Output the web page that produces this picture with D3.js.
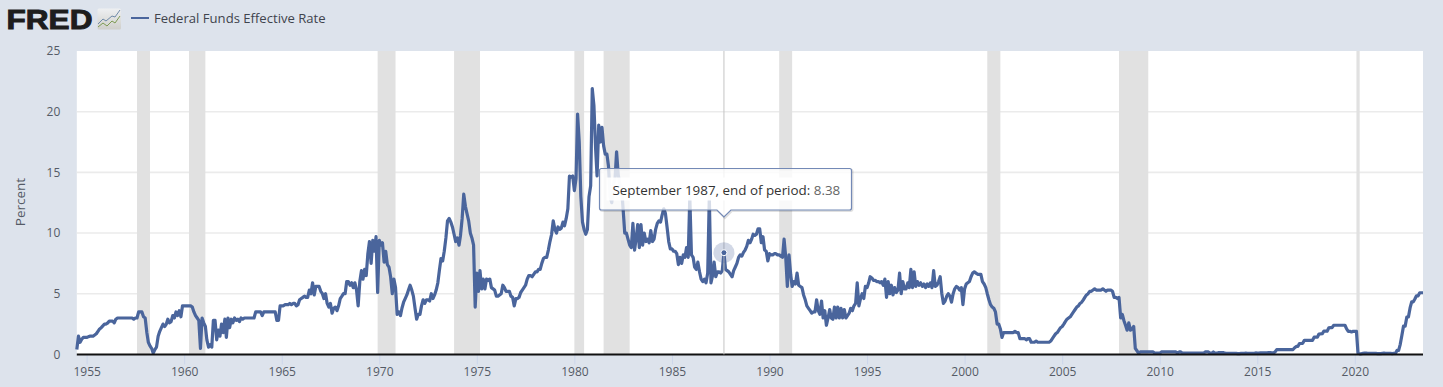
<!DOCTYPE html>
<html>
<head>
<meta charset="utf-8">
<script src="https://cdn.jsdelivr.net/npm/d3@7"></script>
<style>
  html, body { margin: 0; padding: 0; background: #dde3ec; }
  svg { display: block; font-family: "Open Sans", sans-serif; }
</style>
</head>
<body>
<svg id="chart"></svg>
<script>
// monthly end of period values, one row per year. first row starts in July 1954
var rates1950s = [
  [0.4, 1.5, 1.0, 1.25, 1.4, 1.4],
  [1.4, 1.45, 1.5, 1.5, 1.5, 1.6, 1.7, 1.9, 2.1, 2.2, 2.35, 2.5],
  [2.5, 2.6, 2.75, 2.75, 2.75, 2.6, 2.9, 3.0, 3.0, 3.0, 3.0, 3.0],
  [3.0, 3.0, 3.0, 3.0, 3.0, 2.9, 3.0, 3.0, 3.5, 3.5, 3.5, 3.1],
  [3.0, 1.8, 1.0, 0.7, 0.5, 0.1, 0.4, 0.6, 1.5, 1.9, 2.2, 2.5],
  [2.3, 2.5, 2.9, 2.6, 2.7, 3.2, 3.0, 3.5, 3.2, 3.6, 3.1, 4.0]
];
var rates1960s = [
  [4.0, 4.0, 4.0, 4.0, 4.0, 3.9, 3.5, 3.2, 3.0, 2.8, 0.5, 3.0],
  [2.6, 2.3, 1.2, 0.6, 0.8, 0.6, 2.8, 2.8, 1.2, 2.0, 1.5, 2.5],
  [1.8, 2.9, 1.4, 3.0, 2.2, 2.9, 2.6, 3.0, 2.8, 2.9, 2.7, 3.0],
  [2.9, 3.0, 3.0, 3.0, 3.0, 3.0, 3.0, 3.0, 3.5, 3.5, 3.5, 3.5],
  [3.2, 3.5, 3.5, 3.5, 3.5, 3.5, 3.5, 3.5, 3.5, 2.8, 2.8, 4.0],
  [4.0, 4.0, 4.1, 4.1, 4.1, 4.2, 4.1, 4.2, 4.2, 4.0, 4.1, 4.5],
  [4.6, 4.7, 4.8, 4.7, 4.7, 5.3, 5.0, 5.9, 4.9, 5.6, 5.6, 5.6],
  [5.2, 5.0, 4.6, 5.0, 4.2, 3.9, 4.2, 3.4, 3.8, 3.9, 3.6, 4.0],
  [4.6, 4.8, 5.0, 5.0, 6.0, 6.0, 5.7, 5.9, 5.5, 5.9, 5.3, 4.0],
  [6.0, 6.9, 6.2, 7.0, 6.5, 8.3, 9.3, 7.5, 9.4, 8.5, 9.7, 5.1]
];
var rates1970s = [
  [9.4, 9.0, 9.2, 7.6, 8.5, 7.4, 7.2, 6.4, 5.0, 6.2, 5.5, 3.3],
  [3.5, 3.2, 3.8, 4.3, 4.6, 4.9, 5.3, 5.7, 5.3, 4.8, 3.8, 2.9],
  [3.3, 3.3, 4.0, 4.5, 4.2, 4.5, 4.5, 4.4, 5.0, 4.6, 4.9, 5.3],
  [5.9, 7.0, 7.9, 7.7, 8.5, 9.6, 11.0, 11.2, 10.9, 10.5, 9.9, 9.3],
  [9.6, 9.0, 9.8, 11.2, 13.2, 12.2, 11.6, 11.0, 10.0, 9.6, 9.0, 3.9],
  [6.7, 5.2, 6.9, 5.4, 6.2, 5.4, 6.2, 6.1, 6.2, 5.5, 5.4, 5.3],
  [4.8, 4.8, 4.9, 5.0, 5.7, 5.5, 5.2, 5.2, 5.2, 4.8, 4.7, 4.0],
  [4.6, 4.6, 4.7, 5.1, 5.3, 5.5, 5.7, 6.2, 6.5, 6.5, 6.4, 6.6],
  [6.8, 6.8, 7.0, 7.0, 7.5, 7.9, 8.0, 8.0, 8.6, 9.3, 9.9, 11.0],
  [10.3, 10.0, 10.5, 10.3, 10.4, 10.9, 10.6, 11.2, 12.0, 14.7, 14.6, 14.7]
];
var rates1980s = [
  [13.5, 14.5, 19.8, 17.5, 13.0, 10.9, 10.3, 9.9, 10.3, 13.0, 13.9, 21.9],
  [20.5, 17.0, 14.7, 18.9, 17.5, 18.7, 17.2, 16.5, 16.5, 15.5, 13.0, 12.5],
  [14.0, 14.5, 16.7, 14.8, 14.0, 13.8, 12.0, 10.0, 10.0, 9.5, 9.0, 8.8],
  [10.8, 8.6, 9.5, 10.7, 8.8, 10.7, 9.0, 10.0, 9.3, 9.5, 9.2, 10.2],
  [9.3, 9.5, 10.3, 10.8, 11.0, 10.9, 11.5, 12.0, 11.6, 10.5, 9.3, 8.7],
  [8.7, 8.5, 8.5, 8.3, 7.4, 8.0, 7.5, 8.2, 8.0, 8.8, 8.0, 13.0],
  [8.2, 8.0, 7.2, 7.0, 7.6, 6.8, 6.2, 6.0, 6.2, 5.9, 6.7, 13.0],
  [5.9, 6.5, 7.6, 6.4, 6.8, 6.8, 6.7, 6.9, 8.38, 7.0, 6.9, 6.8],
  [6.6, 6.4, 6.9, 7.2, 7.5, 8.0, 8.2, 8.1, 8.4, 8.6, 8.9, 9.4],
  [9.2, 9.5, 9.9, 9.8, 9.9, 10.35, 10.35, 9.2, 9.7, 8.6, 8.5, 7.7]
];
var rates1990s = [
  [8.3, 8.2, 8.2, 8.3, 8.3, 8.2, 8.2, 8.1, 8.0, 9.5, 8.0, 5.6],
  [8.2, 6.6, 5.6, 6.0, 5.8, 6.7, 5.7, 5.6, 5.5, 4.9, 4.5, 4.0],
  [3.8, 3.6, 3.4, 3.5, 3.5, 4.5, 3.6, 3.3, 4.4, 3.0, 3.6, 2.4],
  [3.0, 3.7, 3.0, 2.9, 3.9, 3.0, 3.9, 3.0, 3.8, 3.0, 3.7, 3.0],
  [3.2, 3.4, 3.8, 3.6, 4.0, 4.2, 5.9, 4.0, 4.6, 5.0, 4.6, 5.6],
  [5.5, 5.9, 6.4, 6.3, 6.1, 6.1, 6.0, 6.0, 5.9, 6.0, 5.7, 6.2],
  [4.7, 6.0, 5.0, 5.7, 4.9, 5.5, 5.1, 5.3, 6.7, 5.0, 6.0, 5.4],
  [5.4, 5.9, 5.5, 7.0, 5.5, 6.8, 5.6, 6.0, 5.7, 5.9, 5.6, 5.8],
  [5.5, 5.8, 5.6, 5.9, 5.5, 6.9, 5.6, 5.7, 6.0, 6.4, 5.0, 4.2],
  [4.4, 4.8, 5.0, 4.8, 4.3, 5.0, 5.4, 5.6, 5.5, 5.3, 5.5, 4.1]
];
var rates2000s = [
  [5.4, 5.8, 5.9, 6.0, 6.4, 6.7, 6.8, 6.7, 6.6, 6.6, 6.6, 6.0],
  [5.8, 5.5, 5.0, 4.5, 4.1, 3.9, 3.8, 3.5, 2.5, 2.5, 2.1, 1.4],
  [1.8, 1.8, 1.8, 1.8, 1.8, 1.8, 1.8, 1.9, 1.8, 1.8, 1.3, 1.3],
  [1.3, 1.3, 1.2, 1.3, 1.3, 1.0, 1.0, 1.0, 1.1, 1.0, 1.0, 1.0],
  [1.0, 1.0, 1.0, 1.0, 1.0, 1.1, 1.3, 1.5, 1.7, 1.8, 2.0, 2.2],
  [2.3, 2.5, 2.7, 2.9, 3.0, 3.1, 3.3, 3.5, 3.7, 3.9, 4.0, 4.2],
  [4.3, 4.5, 4.7, 4.9, 5.0, 5.2, 5.2, 5.3, 5.4, 5.3, 5.3, 5.3],
  [5.3, 5.4, 5.3, 5.2, 5.3, 5.3, 5.3, 5.2, 4.7, 4.7, 4.6, 4.7],
  [3.0, 3.3, 2.8, 2.4, 2.0, 2.6, 2.0, 2.1, 2.3, 0.5, 0.3, 0.1],
  [0.2, 0.2, 0.2, 0.2, 0.2, 0.2, 0.2, 0.2, 0.2, 0.1, 0.1, 0.1]
];
var rates2010s = [
  [0.1, 0.2, 0.2, 0.2, 0.2, 0.2, 0.2, 0.2, 0.2, 0.2, 0.2, 0.1],
  [0.2, 0.2, 0.1, 0.1, 0.1, 0.1, 0.1, 0.1, 0.1, 0.1, 0.1, 0.1],
  [0.1, 0.1, 0.1, 0.1, 0.2, 0.2, 0.2, 0.1, 0.1, 0.2, 0.1, 0.1],
  [0.14, 0.15, 0.14, 0.15, 0.1, 0.09, 0.09, 0.08, 0.08, 0.09, 0.08, 0.09],
  [0.07, 0.07, 0.08, 0.09, 0.09, 0.1, 0.09, 0.09, 0.09, 0.09, 0.09, 0.12],
  [0.1, 0.11, 0.12, 0.12, 0.12, 0.13, 0.13, 0.14, 0.14, 0.12, 0.12, 0.2],
  [0.4, 0.4, 0.4, 0.4, 0.4, 0.4, 0.4, 0.4, 0.4, 0.4, 0.4, 0.55],
  [0.66, 0.66, 0.9, 0.9, 0.91, 1.16, 1.16, 1.16, 1.16, 1.16, 1.16, 1.42],
  [1.42, 1.42, 1.68, 1.69, 1.7, 1.91, 1.91, 1.91, 2.18, 2.2, 2.2, 2.4],
  [2.4, 2.4, 2.4, 2.4, 2.4, 2.4, 2.4, 2.1, 1.9, 1.9, 1.85, 1.9]
];
var rates2020s = [
  [1.9, 1.9, 0.1, 0.05, 0.05, 0.08, 0.1, 0.1, 0.09, 0.09, 0.09, 0.09],
  [0.09, 0.08, 0.07, 0.07, 0.06, 0.08, 0.1, 0.09, 0.08, 0.08, 0.08, 0.07],
  [0.08, 0.08, 0.33, 0.33, 0.83, 1.58, 2.33, 2.33, 3.08, 3.08, 3.83, 4.33],
  [4.33, 4.58, 4.83, 4.83, 5.08, 5.08, 5.08]
];

// start and end of the shaded recessions
var recessionStarts = ["1957-08", "1960-04", "1969-12", "1973-11", "1980-01", "1981-07", "1990-07", "2001-03", "2007-12", "2020-02"];
var recessionEnds = ["1958-04", "1961-02", "1970-11", "1975-03", "1980-07", "1982-11", "1991-03", "2001-11", "2009-06", "2020-04"];

var xTickYears = [1955, 1960, 1965, 1970, 1975, 1980, 1985, 1990, 1995, 2000, 2005, 2010, 2015, 2020];
var yTickValues = [0, 5, 10, 15, 20, 25];

var seriesName = "Federal Funds Effective Rate";
var yAxisTitle = "Percent";
var hoverDate = "1987-09";
var hoverValue = 8.38;
var hoverLabel = "September 1987, end of period:";

var size = { width: 1443, height: 387 };
var plot = { left: 76.8, right: 1423, top: 51, bottom: 354.4 };
var lineColor = "#4a659c";
var textColor = "#555b66";

var parseMonth = d3.timeParse("%Y-%m");

// turning the rows into one list of points
var allRows = [].concat(rates1950s, rates1960s, rates1970s, rates1980s, rates1990s, rates2000s, rates2010s, rates2020s);
var points = [];
allRows.forEach(function(row, rowIndex) {
    var firstMonth = rowIndex == 0 ? 6 : 0;
    row.forEach(function(value, i) {
        points.push({ date: new Date(1954 + rowIndex, firstMonth + i, 1), value: value });
    });
});

var svg = d3.select("#chart")
    .attr("width", size.width)
    .attr("height", size.height);

var x = d3.scaleTime()
    .domain([new Date(1954, 6, 1), new Date(2023, 6, 1)])
    .range([plot.left, plot.right]);

var y = d3.scaleLinear()
    .domain([0, 25])
    .range([plot.bottom, plot.top]);

// background and plot area
svg.append("rect")
    .attr("width", size.width)
    .attr("height", size.height)
    .attr("fill", "#dde3ec");

svg.append("rect")
    .attr("x", plot.left)
    .attr("y", plot.top)
    .attr("width", plot.right - plot.left)
    .attr("height", plot.bottom - plot.top)
    .attr("fill", "white");

// grid lines
svg.append("g")
    .selectAll("line")
    .data(yTickValues.filter(d => d > 0 && d < 25))
    .enter()
    .append("line")
    .attr("x1", plot.left)
    .attr("x2", plot.right)
    .attr("y1", d => y(d))
    .attr("y2", d => y(d))
    .attr("stroke", "#ebebeb")
    .attr("stroke-width", 1.6);

// recessions
svg.append("g")
    .selectAll("rect")
    .data(recessionStarts)
    .enter()
    .append("rect")
    .attr("x", d => x(parseMonth(d)))
    .attr("y", plot.top)
    .attr("width", (d, i) => x(parseMonth(recessionEnds[i])) - x(parseMonth(d)))
    .attr("height", plot.bottom - plot.top)
    .attr("fill", "#e1e1e1");

// x axis
var xAxis = d3.axisBottom(x)
    .tickValues(xTickYears.map(d => new Date(d, 0, 1)))
    .tickFormat(d3.timeFormat("%Y"))
    .tickSize(10)
    .tickPadding(3);

var xAxisGroup = svg.append("g")
    .attr("transform", "translate(0," + plot.bottom + ")")
    .call(xAxis);
xAxisGroup.select(".domain").remove();
xAxisGroup.selectAll("line").attr("stroke", "#ccd6eb");
xAxisGroup.selectAll("text")
    .attr("fill", textColor)
    .attr("font-size", 12)
    .attr("font-family", "Open Sans");

// y axis
var yAxis = d3.axisLeft(y)
    .tickValues(yTickValues)
    .tickSize(0)
    .tickPadding(16.5);

var yAxisGroup = svg.append("g")
    .attr("transform", "translate(" + plot.left + ",0)")
    .call(yAxis);
yAxisGroup.select(".domain").remove();
yAxisGroup.selectAll("text")
    .attr("fill", textColor)
    .attr("font-size", 12)
    .attr("font-family", "Open Sans");

svg.append("text")
    .attr("transform", "translate(25,202) rotate(-90)")
    .attr("text-anchor", "middle")
    .attr("fill", textColor)
    .attr("font-size", 13.5)
    .text(yAxisTitle);

// the series
var line = d3.line()
    .x(d => x(d.date))
    .y(d => y(d.value));

svg.append("path")
    .attr("d", line(points))
    .attr("fill", "none")
    .attr("stroke", lineColor)
    .attr("stroke-width", 3.2)
    .attr("stroke-linejoin", "round");

// zero line sits on top of the series
svg.append("line")
    .attr("x1", plot.left)
    .attr("x2", plot.right)
    .attr("y1", plot.bottom)
    .attr("y2", plot.bottom)
    .attr("stroke", "#111")
    .attr("stroke-width", 2);

// crosshair and hover marker
var hoverX = x(parseMonth(hoverDate));
var hoverY = y(hoverValue);

svg.append("line")
    .attr("x1", hoverX)
    .attr("x2", hoverX)
    .attr("y1", plot.top)
    .attr("y2", plot.bottom)
    .attr("stroke", "#c4c4c4")
    .attr("stroke-width", 1);

svg.append("circle")
    .attr("cx", hoverX)
    .attr("cy", hoverY)
    .attr("r", 10.5)
    .attr("fill", lineColor)
    .attr("opacity", 0.25);

svg.append("circle")
    .attr("cx", hoverX)
    .attr("cy", hoverY)
    .attr("r", 3)
    .attr("fill", lineColor)
    .attr("stroke", "white")
    .attr("stroke-width", 1);

// tooltip
var tip = { left: 599.5, right: 851.5, top: 168.5, bottom: 210, arrow: 7 };
var tipPath = d3.path();
tipPath.moveTo(tip.left + 2, tip.top);
tipPath.lineTo(tip.right - 2, tip.top);
tipPath.quadraticCurveTo(tip.right, tip.top, tip.right, tip.top + 2);
tipPath.lineTo(tip.right, tip.bottom - 2);
tipPath.quadraticCurveTo(tip.right, tip.bottom, tip.right - 2, tip.bottom);
tipPath.lineTo(hoverX + tip.arrow, tip.bottom);
tipPath.lineTo(hoverX, tip.bottom + tip.arrow);
tipPath.lineTo(hoverX - tip.arrow, tip.bottom);
tipPath.lineTo(tip.left + 2, tip.bottom);
tipPath.quadraticCurveTo(tip.left, tip.bottom, tip.left, tip.bottom - 2);
tipPath.lineTo(tip.left, tip.top + 2);
tipPath.quadraticCurveTo(tip.left, tip.top, tip.left + 2, tip.top);
tipPath.closePath();

svg.append("path")
    .attr("d", tipPath.toString())
    .attr("transform", "translate(1,1)")
    .attr("fill", "none")
    .attr("stroke", "#000")
    .attr("stroke-opacity", 0.12)
    .attr("stroke-width", 2);

svg.append("path")
    .attr("d", tipPath.toString())
    .attr("fill", "white")
    .attr("fill-opacity", 0.78)
    .attr("stroke", "#7389b6")
    .attr("stroke-width", 1.2);

svg.append("rect")
    .attr("x", tip.left + 7)
    .attr("y", tip.top + 9)
    .attr("width", tip.right - tip.left - 14)
    .attr("height", 23)
    .attr("fill", "white")
    .attr("fill-opacity", 0.9);

var tipText = svg.append("text")
    .attr("x", tip.left + 13)
    .attr("y", tip.top + 26)
    .attr("font-size", 13.4)
    .attr("fill", "#333");
tipText.append("tspan").text(hoverLabel + " ");
tipText.append("tspan").attr("fill", "#666").text(hoverValue);

// legend
svg.append("line")
    .attr("x1", 131)
    .attr("x2", 149)
    .attr("y1", 18)
    .attr("y2", 18)
    .attr("stroke", lineColor)
    .attr("stroke-width", 2);

svg.append("text")
    .attr("x", 154)
    .attr("y", 23)
    .attr("font-size", 13.1)
    .attr("fill", "#3f444d")
    .text(seriesName);

// FRED logo
svg.append("text")
    .attr("x", 6.5)
    .attr("y", 29)
    .attr("font-family", "Liberation Sans")
    .attr("font-weight", 700)
    .attr("font-size", 28.5)
    .attr("stroke", "#1d1d1d")
    .attr("stroke-width", 1)
    .attr("fill", "#1d1d1d")
    .attr("textLength", 86)
    .attr("lengthAdjust", "spacingAndGlyphs")
    .text("FRED");

var iconGradient = svg.append("defs")
    .append("linearGradient")
    .attr("id", "icon-bg")
    .attr("x1", 0).attr("y1", 0).attr("x2", 0).attr("y2", 1);
iconGradient.append("stop").attr("offset", "0%").attr("stop-color", "#eef0f2");
iconGradient.append("stop").attr("offset", "100%").attr("stop-color", "#cfcfcb");

svg.append("rect")
    .attr("x", 97.5)
    .attr("y", 8.5)
    .attr("width", 23.5)
    .attr("height", 21)
    .attr("rx", 1.5)
    .attr("fill", "url(#icon-bg)");

var iconBlue = [[98, 24], [103, 19], [106, 21], [112, 16], [115, 17], [120, 10]];
var iconGreen = [[98, 27], [103, 23], [107, 26], [112, 21], [115, 23], [120, 16]];
svg.append("path")
    .attr("d", d3.line()(iconBlue))
    .attr("fill", "none")
    .attr("stroke", "#6f8aa8")
    .attr("stroke-width", 1);
svg.append("path")
    .attr("d", d3.line()(iconGreen))
    .attr("fill", "none")
    .attr("stroke", "#7d9a52")
    .attr("stroke-width", 1);
</script>
</body>
</html>
